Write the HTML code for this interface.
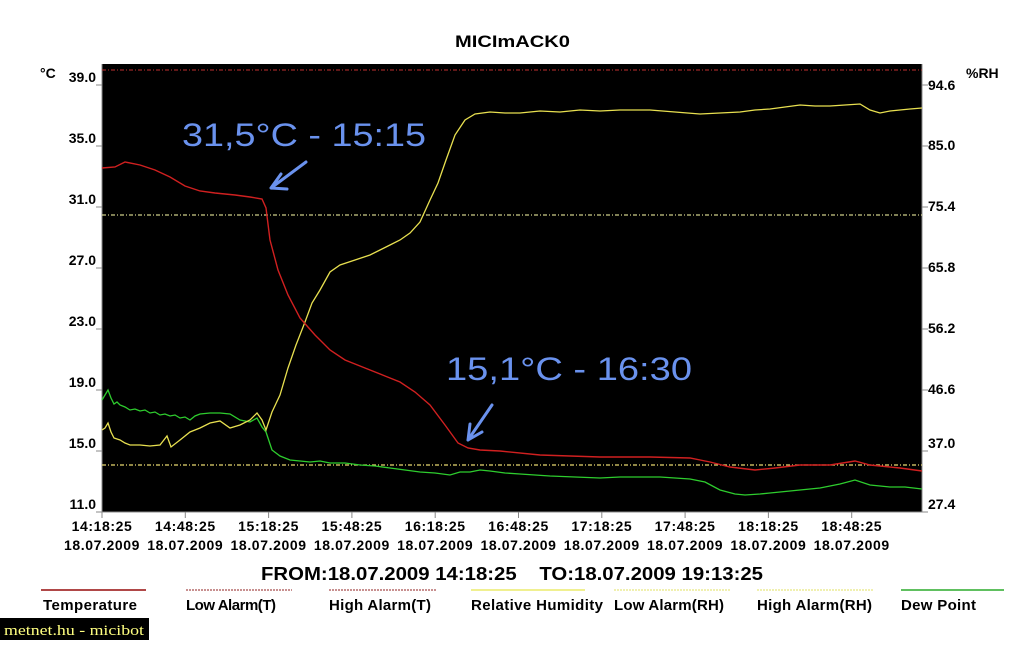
<!DOCTYPE html>
<html><head><meta charset="utf-8"><style>
body{margin:0;background:#fff;width:1024px;height:640px;overflow:hidden;font-family:"Liberation Sans",Arial,sans-serif}
</style></head><body>
<svg width="1024" height="640" xmlns="http://www.w3.org/2000/svg" font-family="Liberation Sans, Arial, sans-serif">
<rect x="0" y="0" width="1024" height="640" fill="#fff"/>
<text x="455" y="47" font-size="17" font-weight="bold" textLength="115" lengthAdjust="spacingAndGlyphs">MICImACK0</text>
<rect x="102" y="64" width="820" height="448" fill="#000"/>
<g stroke="#3a3a3a" stroke-width="1">
<path d="M143.6 64V512M185.2 64V512M226.8 64V512M268.4 64V512M310 64V512M351.6 64V512M393.2 64V512M434.8 64V512M476.4 64V512M518 64V512M559.6 64V512M601.2 64V512M642.8 64V512M684.4 64V512M726 64V512M767.6 64V512M809.2 64V512M850.8 64V512M892.4 64V512"/>
<path d="M102 481.5H922M102 451H922M102 420.5H922M102 390H922M102 359.5H922M102 329H922M102 298.5H922M102 268H922M102 237.5H922M102 207H922M102 176.5H922M102 146H922M102 115.5H922M102 85H922"/>
</g>
<g stroke="#888" stroke-width="1">
<path d="M102 64V512H922V64"/>
<path d="M96 85H102M96 146H102M96 207H102M96 268H102M96 329H102M96 390H102M96 451H102M96 512H102"/>
<path d="M922 85H928M922 146H928M922 207H928M922 268H928M922 329H928M922 390H928M922 451H928M922 512H928"/>
<path d="M102 512V518M185.3 512V518M268.6 512V518M351.9 512V518M435.2 512V518M518.5 512V518M601.8 512V518M685.1 512V518M768.4 512V518M851.7 512V518"/>
</g>
<path d="M102 70H922" stroke="#c03030" stroke-width="1" stroke-dasharray="4,2,1,2"/>
<path d="M102 215H922" stroke="#ffffaa" stroke-width="1" stroke-dasharray="4,2,1,2"/>
<path d="M102 465H922" stroke="#e8d870" stroke-width="1.2" stroke-dasharray="4,2,1,2"/>
<polyline fill="none" stroke="#2ecc2e" stroke-width="1.3" points="102,400 105,395 108,390 111,398 114,404 117,402 120,405 125,407 130,410 135,409 140,411 145,410 150,413 155,412 160,415 165,414 170,416 175,415 180,418 185,417 190,420 195,416 200,414 210,413 220,413 230,414 240,420 250,422 257,418 262,427 266,432 272,450 280,456 290,460 300,461 310,462 320,461 330,463 345,463 360,465 375,466 390,468 405,470 420,472 435,473 450,475 460,472 470,472 480,470 490,471 505,473 520,474 535,475 550,476 575,477 600,478 620,477 640,477 660,477 675,478 690,479 705,482 720,490 735,494 745,495 760,494 770,493 780,492 790,491 800,490 810,489 820,488 830,486 840,484 855,480 870,485 880,486 890,487 905,487 922,489"/>
<polyline fill="none" stroke="#e8e050" stroke-width="1.3" points="102,430 105,428 108,423 111,432 114,438 120,440 125,443 130,445 140,445 150,446 160,445 167,436 171,447 180,440 190,432 200,428 210,423 220,421 230,428 240,425 250,420 257,413 262,420 266,430 272,412 280,395 288,368 296,345 305,322 312,303 320,290 330,272 340,265 355,260 370,255 380,250 390,245 400,240 410,233 420,222 430,200 438,183 446,160 455,135 465,120 475,114 490,112 505,113 520,113 540,111 560,112 580,110 600,111 620,110 650,110 675,112 700,114 720,113 740,112 755,110 770,109 785,107 800,105 815,106 830,106 845,105 860,104 870,110 880,113 890,111 900,110 910,109 922,108"/>
<polyline fill="none" stroke="#d02020" stroke-width="1.4" points="102,168 115,167 125,162 140,165 155,170 170,177 185,186 200,191 215,193 235,195 250,197 262,199 266,208 270,240 278,270 288,295 300,318 315,335 330,350 345,360 365,368 385,376 400,382 415,392 430,405 445,425 458,443 468,448 480,450 500,451 540,455 600,457 650,457 690,458 710,462 730,467 755,470 775,468 800,465 830,465 855,461 870,465 900,468 922,471"/>
<g fill="#6a92ee" font-size="32">
<text x="182" y="146" textLength="244" lengthAdjust="spacingAndGlyphs">31,5°C - 15:15</text>
<text x="446" y="380" textLength="246" lengthAdjust="spacingAndGlyphs">15,1°C - 16:30</text>
</g>
<g stroke="#6a92ee" stroke-width="3" fill="none" stroke-linecap="round">
<path d="M306 162L271 188M271 188L281 174M271 188L287 189"/>
<path d="M492 405L468 440M468 440L470 424M468 440L482 432"/>
</g>
<g font-size="14" font-weight="bold" fill="#000">
<text x="40" y="78">°C</text>
<text x="966" y="78">%RH</text>
<g text-anchor="end">
<text x="96" y="82">39.0</text><text x="96" y="143">35.0</text><text x="96" y="204">31.0</text><text x="96" y="265">27.0</text><text x="96" y="326">23.0</text><text x="96" y="387">19.0</text><text x="96" y="448">15.0</text><text x="96" y="509">11.0</text>
</g>
<text x="928" y="90">94.6</text><text x="928" y="150">85.0</text><text x="928" y="211">75.4</text><text x="928" y="272">65.8</text><text x="928" y="333">56.2</text><text x="928" y="394">46.6</text><text x="928" y="448">37.0</text><text x="928" y="509">27.4</text>
<g text-anchor="middle" letter-spacing="0.6">
<text x="102" y="531">14:18:25</text><text x="102" y="550">18.07.2009</text>
<text x="185.3" y="531">14:48:25</text><text x="185.3" y="550">18.07.2009</text>
<text x="268.6" y="531">15:18:25</text><text x="268.6" y="550">18.07.2009</text>
<text x="351.9" y="531">15:48:25</text><text x="351.9" y="550">18.07.2009</text>
<text x="435.2" y="531">16:18:25</text><text x="435.2" y="550">18.07.2009</text>
<text x="518.5" y="531">16:48:25</text><text x="518.5" y="550">18.07.2009</text>
<text x="601.8" y="531">17:18:25</text><text x="601.8" y="550">18.07.2009</text>
<text x="685.1" y="531">17:48:25</text><text x="685.1" y="550">18.07.2009</text>
<text x="768.4" y="531">18:18:25</text><text x="768.4" y="550">18.07.2009</text>
<text x="851.7" y="531">18:48:25</text><text x="851.7" y="550">18.07.2009</text>
</g>
<text x="261" y="580" font-size="18" textLength="502" lengthAdjust="spacingAndGlyphs">FROM:18.07.2009 14:18:25 &#160;&#160;&#160;TO:18.07.2009 19:13:25</text>
</g>
<g font-size="15" font-weight="bold" fill="#000" lengthAdjust="spacingAndGlyphs">
<text x="43" y="610" textLength="94">Temperature</text>
<text x="186" y="610" textLength="90">Low Alarm(T)</text>
<text x="329" y="610" textLength="102">High Alarm(T)</text>
<text x="471" y="610" textLength="132">Relative Humidity</text>
<text x="614" y="610" textLength="110">Low Alarm(RH)</text>
<text x="757" y="610" textLength="115">High Alarm(RH)</text>
<text x="901" y="610" textLength="75">Dew Point</text>
</g>
<path d="M41 590H146" stroke="#b04848" stroke-width="2"/>
<path d="M186 590H292" stroke="#c89090" stroke-width="2" stroke-dasharray="2,1"/>
<path d="M329 590H436" stroke="#c89090" stroke-width="2" stroke-dasharray="2,1"/>
<path d="M471 590H585" stroke="#f0f090" stroke-width="2"/>
<path d="M614 590H730" stroke="#f0f0b0" stroke-width="2" stroke-dasharray="2,1"/>
<path d="M757 590H874" stroke="#f0f0b0" stroke-width="2" stroke-dasharray="2,1"/>
<path d="M901 590H1004" stroke="#60c060" stroke-width="2"/>
<rect x="0" y="618" width="149" height="22" fill="#000"/>
<text x="4" y="635" font-family="Liberation Serif, serif" font-size="15" fill="#ffff80" textLength="140" lengthAdjust="spacingAndGlyphs">metnet.hu - micibot</text>
</svg>
</body></html>
